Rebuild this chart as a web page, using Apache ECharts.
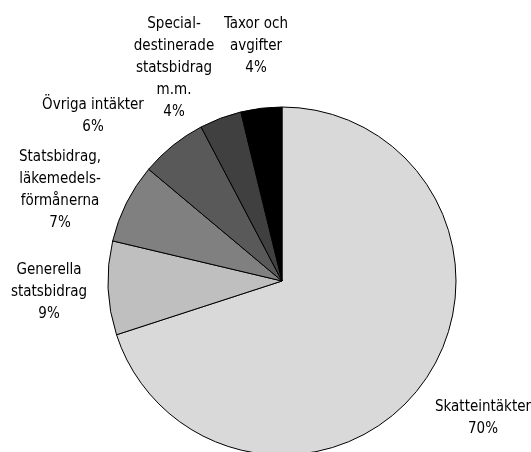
<!DOCTYPE html>
<html>
<head>
<meta charset="utf-8">
<script src="https://cdn.jsdelivr.net/npm/echarts@6/dist/echarts.min.js"></script>
<style>
    html, body { margin: 0; padding: 0; background: #fff; }
    #chartPie { width: 531px; height: 452px; }
</style>
</head>
<body>
<div id="chartPie"></div>
<script>
    // kategorier, medurs från klockan 12
    var categories = ['Skatteintäkter', 'Generella\nstatsbidrag', 'Statsbidrag,\nläkemedels-\nförmånerna',
        'Övriga intäkter', 'Special-\ndestinerade\nstatsbidrag\nm.m.', 'Taxor och\navgifter'];
    var shares = [70, 8.7, 7.4, 6.2, 3.9, 3.8];
    var sliceColors = ['#d9d9d9', '#bfbfbf', '#808080', '#595959', '#404040', '#000000'];
    // etikettplacering (mitt på textblocket)
    var labelPos = [[483, 418], [49, 292], [60, 190], [93, 116], [174, 68], [256, 46]];

    var chartPie = echarts.init(document.getElementById('chartPie'));
    chartPie.setOption({
        animation: false,
        series: [{
            type: 'pie',
            center: [282, 281],
            radius: 174,
            startAngle: 90,
            clockwise: true,
            silent: true,
            data: categories.map(function (c, i) {
                return { name: c, value: shares[i], itemStyle: { color: sliceColors[i] } };
            }),
            itemStyle: { borderColor: '#000', borderWidth: 1 },
            label: {
                show: true,
                color: '#000',
                fontFamily: '"DejaVu Sans Condensed", "Liberation Sans Narrow", sans-serif',
                fontSize: 15,
                lineHeight: 22,
                align: 'center',
                overflow: 'none',
                width: 200,
                formatter: function (p) { return p.name + '\n' + Math.round(p.value) + '%'; }
            },
            labelLine: { show: false },
            labelLayout: function (p) {
                return { x: labelPos[p.dataIndex][0], y: labelPos[p.dataIndex][1], align: 'center', verticalAlign: 'middle' };
            }
        }]
    });
</script>
</body>
</html>
